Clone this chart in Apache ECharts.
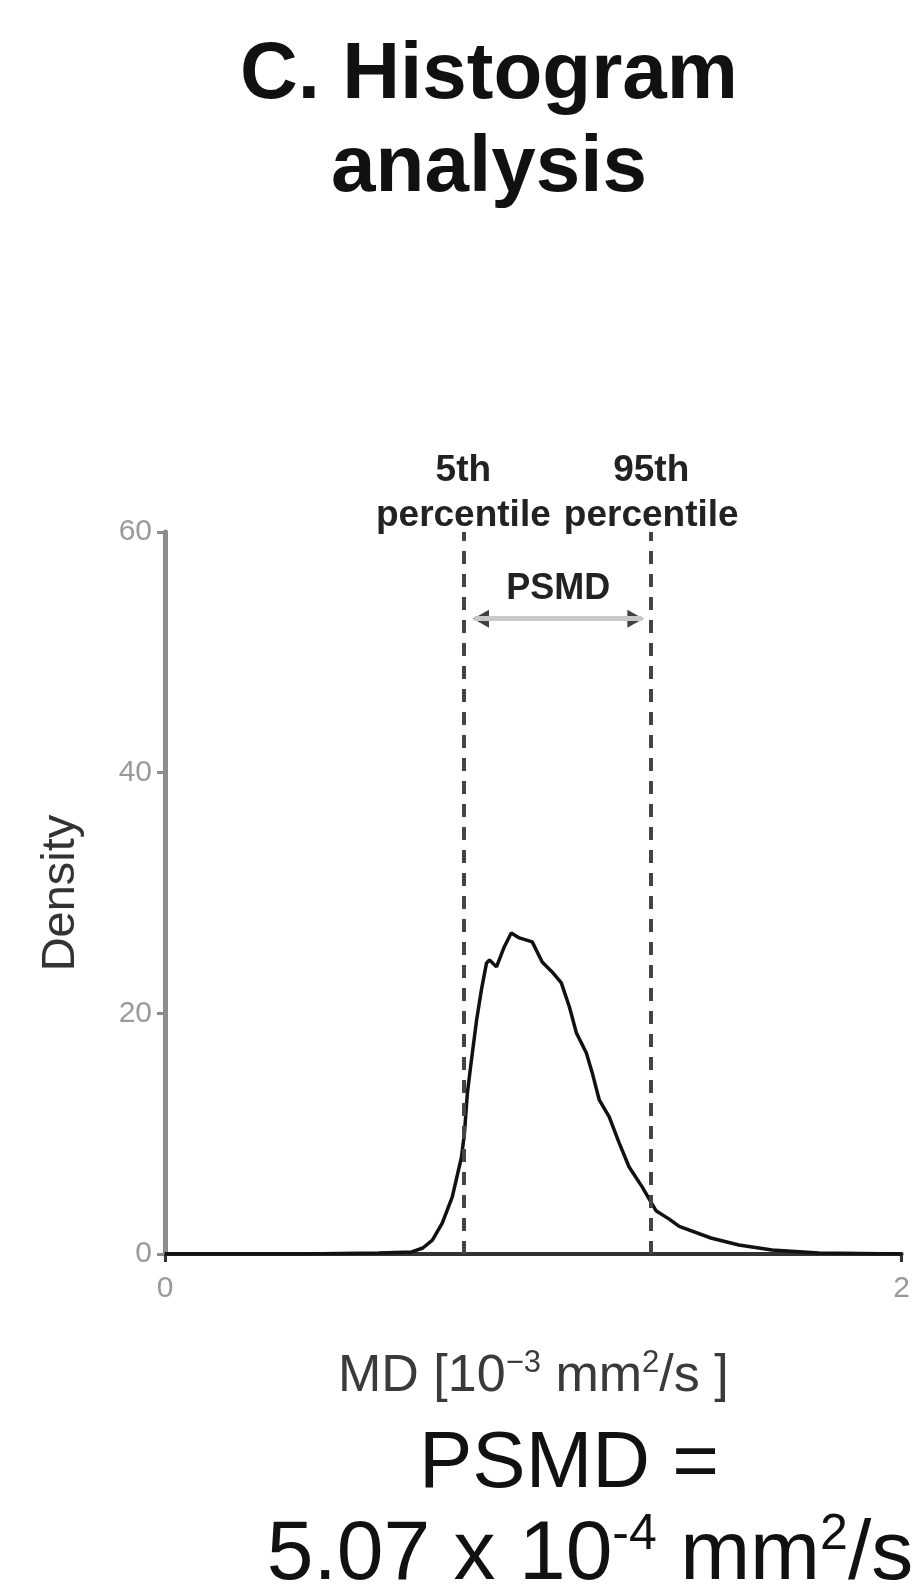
<!DOCTYPE html>
<html>
<head>
<meta charset="utf-8">
<title>C. Histogram analysis</title>
<script src="https://cdn.jsdelivr.net/npm/echarts@6/dist/echarts.min.js"></script>
<style>
  html, body { margin: 0; padding: 0; background: #fff; }
  #chart { width: 913px; height: 1594px; }
</style>
</head>
<body>
<div id="chart"></div>
<script>
// MD values (10^-3 mm^2/s) and density
const mdValues = [0, 0.37, 0.58, 0.67, 0.70, 0.726, 0.753, 0.78, 0.805, 0.813, 0.821, 0.832, 0.846, 0.859, 0.873, 0.881, 0.90, 0.921, 0.94, 0.962, 0.997, 1.024, 1.051, 1.076, 1.098, 1.117, 1.144, 1.16, 1.179, 1.206, 1.233, 1.26, 1.295, 1.333, 1.369, 1.396, 1.482, 1.558, 1.648, 1.775, 2.0]
const densityValues = [0, 0, 0.08, 0.17, 0.5, 1.16, 2.58, 4.74, 8.06, 10.06, 13.38, 16.13, 19.45, 21.95, 24.19, 24.44, 23.86, 25.52, 26.68, 26.27, 25.94, 24.27, 23.44, 22.53, 20.53, 18.37, 16.71, 15.05, 12.8, 11.39, 9.23, 7.23, 5.6, 3.6, 2.9, 2.3, 1.33, 0.75, 0.33, 0.08, 0]

// percentiles and the PSMD arrow
const percentiles = [0.808, 1.32]
const percentileLabels = ['5th\npercentile', '95th\npercentile']
const psmdSpan = [0.84, 1.295]
const psmdLevel = 52.8
const arrowHeads = [[0.858, 52.8], [1.277, 52.8]]

const xTicks = { min: 0, max: 2, interval: 2 }
const yTicks = { min: 0, max: 60, interval: 20 }

const font = "'Liberation Sans', Arial, Helvetica, sans-serif"
const myChart = echarts.init(document.getElementById('chart'))

const curve = mdValues.map((x, i) => [x, densityValues[i]])

const option = {
  animation: false,
  backgroundColor: '#fff',
  textStyle: { fontFamily: font },
  title: {
    text: 'C. Histogram\nanalysis',
    left: 484,
    top: 24,
    textAlign: 'center',
    textStyle: { fontSize: 80, fontWeight: 'bold', lineHeight: 93, color: '#111', fontFamily: font }
  },
  grid: { left: 165, right: 10, top: 532, bottom: 340, containLabel: false },
  xAxis: {
    type: 'value',
    min: xTicks.min,
    max: xTicks.max,
    interval: xTicks.interval,
    name: 'MD [10{sup|−3} mm{sup|2}/s ]',
    nameLocation: 'middle',
    nameGap: 94,
    nameTextStyle: {
      fontSize: 52, color: '#3a3a3a', fontFamily: font,
      rich: { sup: { fontSize: 31, color: '#3a3a3a', verticalAlign: 'top', padding: [0, 0, 27, 0] } }
    },
    axisLine: { lineStyle: { color: '#333', width: 4 } },
    axisTick: { length: 8, lineStyle: { color: '#333', width: 3 } },
    axisLabel: { fontSize: 30, color: '#999', margin: 20, fontFamily: font },
    splitLine: { show: false }
  },
  yAxis: {
    type: 'value',
    min: yTicks.min,
    max: yTicks.max,
    interval: yTicks.interval,
    name: 'Density',
    nameLocation: 'middle',
    nameGap: 80,
    nameTextStyle: { fontSize: 47, color: '#333', fontFamily: font },
    axisLine: { show: true, lineStyle: { color: '#8c8c8c', width: 5 } },
    axisTick: { show: true, length: 8, lineStyle: { color: '#8c8c8c', width: 3 } },
    axisLabel: { fontSize: 30, color: '#9a9a9a', margin: 13, fontFamily: font },
    splitLine: { show: false }
  },
  series: [
    {
      type: 'line',
      data: curve,
      showSymbol: false,
      lineStyle: { color: '#111', width: 3.5 },
      z: 3,
      markLine: {
        silent: true,
        symbol: 'none',
        animation: false,
        data: [
          ...percentiles.map((p, i) => ({
            xAxis: p,
            lineStyle: { color: '#444', width: 4, type: [13, 10] },
            label: {
              show: true,
              position: 'end',
              distance: -6,
              formatter: percentileLabels[i],
              fontSize: 37,
              fontWeight: 'bold',
              lineHeight: 45,
              color: '#222',
              fontFamily: font
            }
          })),
          [
            {
              coord: [psmdSpan[0], psmdLevel],
              lineStyle: { color: '#c8c8c8', width: 5, type: 'solid' },
              label: {
                show: true,
                position: 'insideMiddleTop',
                distance: 12,
                formatter: 'PSMD',
                fontSize: 36,
                fontWeight: 'bold',
                color: '#222',
                fontFamily: font
              }
            },
            { coord: [psmdSpan[1], psmdLevel] }
          ]
        ]
      }
    },
    {
      type: 'scatter',
      data: arrowHeads.map((p, i) => ({ value: p, symbolRotate: i === 0 ? 90 : -90 })),
      symbol: 'triangle',
      symbolSize: [18, 16],
      itemStyle: { color: '#111' },
      silent: true,
      z: 4
    }
  ],
  graphic: [
    {
      type: 'text',
      x: 569,
      y: 1465,
      style: {
        text: 'PSMD =',
        fontSize: 80,
        fontFamily: font,
        fill: '#111',
        textAlign: 'center',
        textVerticalAlign: 'middle'
      }
    },
    {
      type: 'text',
      x: 590,
      y: 1556,
      style: {
        text: '5.07 x 10{sup|-4} mm{sup|2}/s',
        fontSize: 84,
        fontFamily: font,
        fill: '#111',
        textAlign: 'center',
        textVerticalAlign: 'middle',
        rich: {
          sup: { fontSize: 50, fontFamily: font, fill: '#111', padding: [0, 0, 42, 0] }
        }
      }
    }
  ]
}

myChart.setOption(option)
window.addEventListener('resize', function () {
  myChart.resize()
})
</script>
</body>
</html>
